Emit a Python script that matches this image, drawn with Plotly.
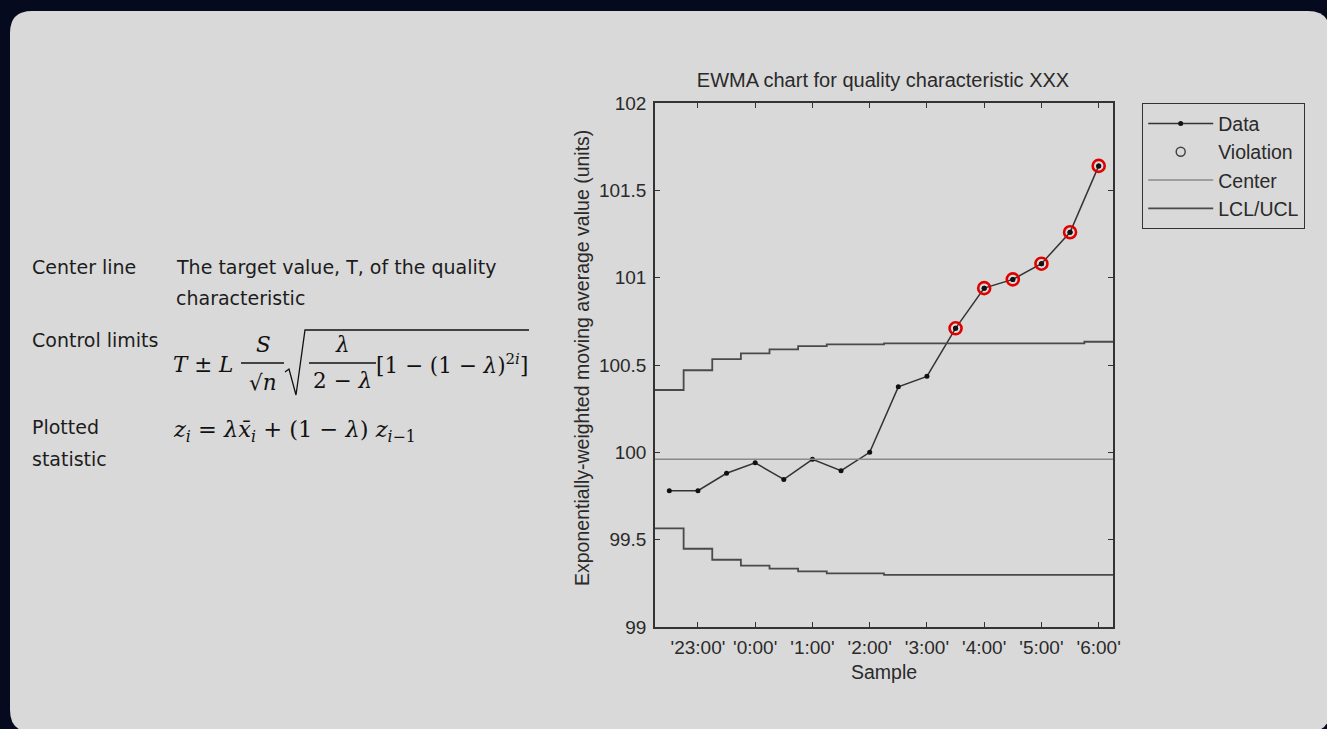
import plotly.graph_objects as go

# ---------------- data ----------------
times = ["22:30", "23:00", "23:30", "0:00", "0:30", "1:00", "1:30", "2:00",
         "2:30", "3:00", "3:30", "4:00", "4:30", "5:00", "5:30", "6:00"]
ewma = [99.78, 99.78, 99.88, 99.94, 99.845, 99.96, 99.895, 100.00,
        100.375, 100.435, 100.71, 100.94, 100.99, 101.08, 101.26, 101.64]
ucl = [100.357, 100.47, 100.534, 100.567, 100.59, 100.608, 100.618, 100.618,
       100.624, 100.624, 100.624, 100.624, 100.624, 100.624, 100.624, 100.633]
lcl = [99.565, 99.448, 99.385, 99.351, 99.334, 99.319, 99.307, 99.307,
       99.298, 99.298, 99.298, 99.298, 99.298, 99.298, 99.298, 99.298]
center = 99.96
y_ticks = [99, 99.5, 100, 100.5, 101, 101.5, 102]

# ---------------- derived ----------------
idx = list(range(1, len(times) + 1))
tick_idx = [i for i, t in zip(idx, times) if t.endswith(":00")]
tick_txt = ["'" + t + "'" for t in times if t.endswith(":00")]
step_x = [idx[0] - 0.5] + idx + [idx[-1] + 0.5]
ucl_ext = [ucl[0]] + ucl + [ucl[-1]]
lcl_ext = [lcl[0]] + lcl + [lcl[-1]]
viol_x = [i for i, v, u, l in zip(idx, ewma, ucl, lcl) if v > u or v < l]
viol_y = [v for v, u, l in zip(ewma, ucl, lcl) if v > u or v < l]

W, H = 1327, 729
def fx(p):
    return p / W
def fy(p):
    return 1 - p / H

PANEL = "#d9d9d9"
DARK = "#050a1f"
AX = "#333333"
CHART_FONT = "Liberation Sans, Arial, sans-serif"
TXT_FONT = "DejaVu Sans, sans-serif"
MATH_FONT = "DejaVu Serif, serif"
FS = 19.5

fig = go.Figure()

fig.add_trace(go.Scatter(
    x=idx, y=ewma, mode="lines+markers", name="Data",
    line=dict(color="#333333", width=1.5),
    marker=dict(color="#111111", size=5),
))
fig.add_trace(go.Scatter(
    x=[None], y=[None], mode="markers", name="Violation",
    marker=dict(symbol="circle-open", color="#444444", size=9, line=dict(width=1.5)),
))
fig.add_trace(go.Scatter(
    x=[step_x[0], step_x[-1]], y=[center, center], mode="lines", name="Center",
    line=dict(color="#8a8a8a", width=1.5),
))
fig.add_trace(go.Scatter(
    x=step_x + [None] + step_x, y=ucl_ext + [None] + lcl_ext,
    mode="lines", name="LCL/UCL", line_shape="hvh",
    line=dict(color="#4a4a4a", width=1.8),
))
fig.add_trace(go.Scatter(
    x=viol_x, y=viol_y, mode="markers", showlegend=False,
    marker=dict(symbol="circle-open", color="#e00000", size=12, line=dict(width=2.6)),
))
fig.add_trace(go.Scatter(
    x=viol_x, y=viol_y, mode="markers", showlegend=False,
    marker=dict(color="#111111", size=5),
))

axis_common = dict(
    showline=True, linecolor=AX, linewidth=1.5, mirror="ticks",
    ticks="inside", ticklen=5, tickcolor=AX, tickwidth=1.2,
    showgrid=False, zeroline=False, automargin=False,
    tickfont=dict(family=CHART_FONT, size=FS - 0.5, color="#2a2a2a"),
)

fig.update_layout(
    width=W, height=H,
    margin=dict(l=0, r=0, t=0, b=0, pad=0, autoexpand=False),
    paper_bgcolor=DARK, plot_bgcolor=PANEL,
    xaxis=dict(domain=[fx(655), fx(1113)], range=[step_x[0], step_x[-1]],
               tickmode="array", tickvals=tick_idx, ticktext=tick_txt,
               ticklabelstandoff=2, **axis_common),
    yaxis=dict(domain=[fy(627), fy(103)], range=[y_ticks[0], y_ticks[-1]],
               tickmode="array", tickvals=y_ticks, ticklabelstandoff=3,
               **axis_common),
    title=dict(text="EWMA chart for quality characteristic XXX",
               x=fx(883), xanchor="center", y=fy(80), yanchor="middle",
               font=dict(family=CHART_FONT, size=FS + 0.5, color="#2a2a2a")),
    legend=dict(x=fx(1142), y=fy(103), xanchor="left", yanchor="top",
                bgcolor=PANEL, bordercolor="#333333", borderwidth=1.2,
                font=dict(family=CHART_FONT, size=FS, color="#2a2a2a"),
                itemwidth=65, tracegroupgap=0),
    showlegend=True,
)

# rounded background panel
x0, y0, x1, y1, r = 10, 11, 1330, 732, 22
panel_path = (
    f"M {fx(x0 + r)},{fy(y0)} L {fx(x1 - r)},{fy(y0)} Q {fx(x1)},{fy(y0)} {fx(x1)},{fy(y0 + r)} "
    f"L {fx(x1)},{fy(y1 - r)} Q {fx(x1)},{fy(y1)} {fx(x1 - r)},{fy(y1)} "
    f"L {fx(x0 + r)},{fy(y1)} Q {fx(x0)},{fy(y1)} {fx(x0)},{fy(y1 - r)} "
    f"L {fx(x0)},{fy(y0 + r)} Q {fx(x0)},{fy(y0)} {fx(x0 + r)},{fy(y0)} Z"
)
shapes = [dict(type="path", xref="paper", yref="paper", path=panel_path,
               fillcolor=PANEL, line=dict(width=0), layer="below")]

ann = []
def txt(x, y, s, font=TXT_FONT, size=19, color="#1c1c1c", xanchor="left", angle=0):
    ann.append(dict(x=fx(x), y=fy(y), xref="paper", yref="paper", text=s,
                    showarrow=False, xanchor=xanchor, yanchor="middle",
                    textangle=angle,
                    font=dict(family=font, size=size, color=color)))

# axis titles
txt(884, 672, "Sample", font=CHART_FONT, size=FS, color="#2a2a2a", xanchor="center")
txt(582, 358, "Exponentially-weighted moving average value (units)",
    font=CHART_FONT, size=FS, color="#2a2a2a", xanchor="center", angle=-90)

# left description block
txt(30, 267, "Center line")
txt(174, 267, "The target value, T, of the quality")
txt(174, 298, "characteristic")
txt(30, 340, "Control limits")
txt(30, 427, "Plotted")
txt(30, 459, "statistic")

# control limits formula
M = dict(font=MATH_FONT, size=21.5, color="#111111")
txt(171, 364, "<i>T</i> ± <i>L</i>", **M)
txt(263, 345, "<i>S</i>", xanchor="center", **M)
txt(263, 382, "√<i>n</i>", xanchor="center", **M)
txt(342, 344, "<i>λ</i>", xanchor="center", **M)
txt(342, 381, "2 − <i>λ</i>", xanchor="center", **M)
txt(374, 364, "[1 − (1 − <i>λ</i>)<sup>2<i>i</i></sup>]", **M)
# plotted statistic formula
txt(171, 431, "<i>z<sub>i</sub></i> = <i>λx̄<sub>i</sub></i> + (1 − <i>λ</i>) <i>z<sub>i</sub></i><sub>−1</sub>",
    font=MATH_FONT, size=22.5, color="#111111")

line_style = dict(color="#111111", width=1.3)
shapes.append(dict(type="line", xref="paper", yref="paper",
                   x0=fx(241), x1=fx(284), y0=fy(363), y1=fy(363), line=line_style))
shapes.append(dict(type="line", xref="paper", yref="paper",
                   x0=fx(309), x1=fx(376), y0=fy(363), y1=fy(363), line=line_style))
rad_path = (f"M {fx(285)},{fy(372)} L {fx(289)},{fy(369)} L {fx(296)},{fy(395)} "
            f"L {fx(305)},{fy(330)} L {fx(529)},{fy(330)}")
shapes.append(dict(type="path", xref="paper", yref="paper", path=rad_path,
                   line=line_style))

fig.update_layout(shapes=shapes, annotations=ann)

fig.write_html("out.html", config={"displayModeBar": False},
               post_script="document.body.style.margin='0';document.body.style.overflow='hidden';")
